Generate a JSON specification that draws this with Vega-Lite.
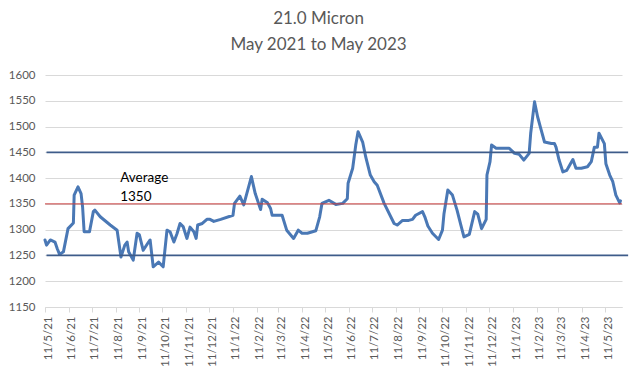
{
  "$schema": "https://vega.github.io/schema/vega-lite/v6.json",
  "width": 577,
  "height": 232,
  "autosize": {"type": "none"},
  "padding": {"left": 45, "top": 75, "right": 14, "bottom": 65},
  "background": "white",
  "title": {
    "text": ["21.0 Micron", "May 2021 to May 2023"],
    "font": "Lato",
    "fontSize": 17,
    "fontWeight": "normal",
    "color": "#595959",
    "lineHeight": 26,
    "anchor": "middle",
    "dx": -15,
    "offset": 15
  },
  "config": {
    "view": {"stroke": null},
    "axis": {"labelFont": "Lato", "labelColor": "#595959", "labelFontSize": 11.5, "labelOverlap": false, "labelFlush": false}
  },
  "datasets": {
    "series": [
      {"date": "2021-05-11", "price": 1280},
      {"date": "2021-05-13", "price": 1270},
      {"date": "2021-05-18", "price": 1280},
      {"date": "2021-05-24", "price": 1276},
      {"date": "2021-05-27", "price": 1263},
      {"date": "2021-05-30", "price": 1252},
      {"date": "2021-06-04", "price": 1257},
      {"date": "2021-06-10", "price": 1302},
      {"date": "2021-06-17", "price": 1313},
      {"date": "2021-06-18", "price": 1367},
      {"date": "2021-06-23", "price": 1383},
      {"date": "2021-06-27", "price": 1370},
      {"date": "2021-06-29", "price": 1344},
      {"date": "2021-07-01", "price": 1296},
      {"date": "2021-07-08", "price": 1296},
      {"date": "2021-07-13", "price": 1335},
      {"date": "2021-07-15", "price": 1338},
      {"date": "2021-07-22", "price": 1325},
      {"date": "2021-08-04", "price": 1309},
      {"date": "2021-08-13", "price": 1299},
      {"date": "2021-08-18", "price": 1247},
      {"date": "2021-08-23", "price": 1270},
      {"date": "2021-08-26", "price": 1276},
      {"date": "2021-08-28", "price": 1257},
      {"date": "2021-09-03", "price": 1241},
      {"date": "2021-09-08", "price": 1293},
      {"date": "2021-09-11", "price": 1290},
      {"date": "2021-09-16", "price": 1260},
      {"date": "2021-09-23", "price": 1276},
      {"date": "2021-09-25", "price": 1280},
      {"date": "2021-09-29", "price": 1228},
      {"date": "2021-10-06", "price": 1237},
      {"date": "2021-10-12", "price": 1228},
      {"date": "2021-10-17", "price": 1299},
      {"date": "2021-10-21", "price": 1296},
      {"date": "2021-10-26", "price": 1276},
      {"date": "2021-10-30", "price": 1292},
      {"date": "2021-11-03", "price": 1312},
      {"date": "2021-11-07", "price": 1306},
      {"date": "2021-11-12", "price": 1283},
      {"date": "2021-11-16", "price": 1305},
      {"date": "2021-11-21", "price": 1296},
      {"date": "2021-11-24", "price": 1283},
      {"date": "2021-11-26", "price": 1309},
      {"date": "2021-12-02", "price": 1312},
      {"date": "2021-12-08", "price": 1320},
      {"date": "2021-12-12", "price": 1320},
      {"date": "2021-12-17", "price": 1316},
      {"date": "2021-12-26", "price": 1320},
      {"date": "2022-01-11", "price": 1328},
      {"date": "2022-01-13", "price": 1351},
      {"date": "2022-01-20", "price": 1365},
      {"date": "2022-01-25", "price": 1348},
      {"date": "2022-02-04", "price": 1403},
      {"date": "2022-02-09", "price": 1370},
      {"date": "2022-02-16", "price": 1339},
      {"date": "2022-02-18", "price": 1359},
      {"date": "2022-02-25", "price": 1352},
      {"date": "2022-03-01", "price": 1341},
      {"date": "2022-03-03", "price": 1328},
      {"date": "2022-03-16", "price": 1328},
      {"date": "2022-03-22", "price": 1299},
      {"date": "2022-03-31", "price": 1283},
      {"date": "2022-04-06", "price": 1299},
      {"date": "2022-04-11", "price": 1293},
      {"date": "2022-04-18", "price": 1293},
      {"date": "2022-04-29", "price": 1298},
      {"date": "2022-05-04", "price": 1325},
      {"date": "2022-05-07", "price": 1351},
      {"date": "2022-05-16", "price": 1357},
      {"date": "2022-05-25", "price": 1349},
      {"date": "2022-06-03", "price": 1351},
      {"date": "2022-06-09", "price": 1360},
      {"date": "2022-06-10", "price": 1390},
      {"date": "2022-06-16", "price": 1419},
      {"date": "2022-06-20", "price": 1464},
      {"date": "2022-06-23", "price": 1490},
      {"date": "2022-06-29", "price": 1470},
      {"date": "2022-07-03", "price": 1441},
      {"date": "2022-07-09", "price": 1406},
      {"date": "2022-07-14", "price": 1393},
      {"date": "2022-07-18", "price": 1386},
      {"date": "2022-07-27", "price": 1351},
      {"date": "2022-08-09", "price": 1312},
      {"date": "2022-08-13", "price": 1309},
      {"date": "2022-08-20", "price": 1318},
      {"date": "2022-08-28", "price": 1318},
      {"date": "2022-09-02", "price": 1320},
      {"date": "2022-09-06", "price": 1328},
      {"date": "2022-09-15", "price": 1335},
      {"date": "2022-09-18", "price": 1325},
      {"date": "2022-09-22", "price": 1307},
      {"date": "2022-09-28", "price": 1293},
      {"date": "2022-10-06", "price": 1281},
      {"date": "2022-10-11", "price": 1299},
      {"date": "2022-10-13", "price": 1331},
      {"date": "2022-10-18", "price": 1377},
      {"date": "2022-10-24", "price": 1367},
      {"date": "2022-10-30", "price": 1338},
      {"date": "2022-11-04", "price": 1309},
      {"date": "2022-11-08", "price": 1286},
      {"date": "2022-11-15", "price": 1291},
      {"date": "2022-11-22", "price": 1335},
      {"date": "2022-11-26", "price": 1330},
      {"date": "2022-12-01", "price": 1302},
      {"date": "2022-12-07", "price": 1320},
      {"date": "2022-12-08", "price": 1406},
      {"date": "2022-12-12", "price": 1432},
      {"date": "2022-12-14", "price": 1464},
      {"date": "2022-12-20", "price": 1458},
      {"date": "2023-01-06", "price": 1458},
      {"date": "2023-01-13", "price": 1448},
      {"date": "2023-01-19", "price": 1446},
      {"date": "2023-01-25", "price": 1435},
      {"date": "2023-02-01", "price": 1448},
      {"date": "2023-02-03", "price": 1487},
      {"date": "2023-02-08", "price": 1548},
      {"date": "2023-02-12", "price": 1519},
      {"date": "2023-02-16", "price": 1497},
      {"date": "2023-02-21", "price": 1470},
      {"date": "2023-03-02", "price": 1467},
      {"date": "2023-03-06", "price": 1467},
      {"date": "2023-03-08", "price": 1460},
      {"date": "2023-03-12", "price": 1435},
      {"date": "2023-03-17", "price": 1412},
      {"date": "2023-03-22", "price": 1415},
      {"date": "2023-03-25", "price": 1423},
      {"date": "2023-03-30", "price": 1436},
      {"date": "2023-04-03", "price": 1419},
      {"date": "2023-04-10", "price": 1419},
      {"date": "2023-04-18", "price": 1422},
      {"date": "2023-04-23", "price": 1432},
      {"date": "2023-04-27", "price": 1460},
      {"date": "2023-05-01", "price": 1460},
      {"date": "2023-05-03", "price": 1487},
      {"date": "2023-05-10", "price": 1467},
      {"date": "2023-05-12", "price": 1428},
      {"date": "2023-05-17", "price": 1406},
      {"date": "2023-05-21", "price": 1393},
      {"date": "2023-05-25", "price": 1367},
      {"date": "2023-05-30", "price": 1352},
      {"date": "2023-05-31", "price": 1356}
    ],
    "bands": [
      {"level": 1450, "start": "2021-05-13", "end": "2023-06-10"},
      {"level": 1250, "start": "2021-05-13", "end": "2023-06-10"}
    ],
    "average": [
      {"level": 1350, "date": "2021-08-17", "note": ["Average", "1350"]}
    ]
  },
  "layer": [
    {
      "data": {"name": "series", "format": {"parse": {"date": "date:'%Y-%m-%d'"}}},
      "mark": {"type": "line", "color": "#4A78B5", "strokeWidth": 3, "strokeJoin": "round", "strokeCap": "round"},
      "encoding": {
        "x": {
          "field": "date",
          "type": "temporal",
          "scale": {"domain": [{"year": 2021, "month": 5, "date": 11}, {"year": 2023, "month": 6, "date": 2}]},
          "axis": {
            "title": null,
            "grid": false,
            "format": "%-d/%-m/%y",
            "labelAngle": -90,
            "labelPadding": 4,
            "labelOffset": 3,
            "labelOverlap": false,
            "tickCount": 100,
            "domainColor": "#d9d9d9",
            "tickColor": "#d9d9d9",
            "tickSize": 5,
            "values": [
              {"year": 2021, "month": 5, "date": 11},
              {"year": 2021, "month": 6, "date": 11},
              {"year": 2021, "month": 7, "date": 11},
              {"year": 2021, "month": 8, "date": 11},
              {"year": 2021, "month": 9, "date": 11},
              {"year": 2021, "month": 10, "date": 11},
              {"year": 2021, "month": 11, "date": 11},
              {"year": 2021, "month": 12, "date": 11},
              {"year": 2022, "month": 1, "date": 11},
              {"year": 2022, "month": 2, "date": 11},
              {"year": 2022, "month": 3, "date": 11},
              {"year": 2022, "month": 4, "date": 11},
              {"year": 2022, "month": 5, "date": 11},
              {"year": 2022, "month": 6, "date": 11},
              {"year": 2022, "month": 7, "date": 11},
              {"year": 2022, "month": 8, "date": 11},
              {"year": 2022, "month": 9, "date": 11},
              {"year": 2022, "month": 10, "date": 11},
              {"year": 2022, "month": 11, "date": 11},
              {"year": 2022, "month": 12, "date": 11},
              {"year": 2023, "month": 1, "date": 11},
              {"year": 2023, "month": 2, "date": 11},
              {"year": 2023, "month": 3, "date": 11},
              {"year": 2023, "month": 4, "date": 11},
              {"year": 2023, "month": 5, "date": 11}
            ]
          }
        },
        "y": {
          "field": "price",
          "type": "quantitative",
          "scale": {"domain": [1150, 1600], "nice": false, "zero": false},
          "axis": {
            "title": null,
            "format": "d",
            "values": [1150, 1200, 1250, 1300, 1350, 1400, 1450, 1500, 1550, 1600],
            "tickCount": 100,
            "grid": true,
            "gridColor": "#d9d9d9",
            "domain": false,
            "ticks": false,
            "labelOverlap": false,
            "labelPadding": 10
          }
        }
      }
    },
    {
      "data": {"name": "bands", "format": {"parse": {"start": "date:'%Y-%m-%d'", "end": "date:'%Y-%m-%d'"}}},
      "mark": {"type": "rule", "color": "#3E5C8A", "strokeWidth": 1.75, "clip": false},
      "encoding": {
        "x": {"field": "start", "type": "temporal"},
        "x2": {"field": "end"},
        "y": {"field": "level", "type": "quantitative"}
      }
    },
    {
      "data": {"name": "average", "format": {"parse": {"date": "date:'%Y-%m-%d'"}}},
      "layer": [
        {
          "mark": {"type": "rule", "color": "#C83C3C", "strokeWidth": 1},
          "encoding": {
            "y": {"field": "level", "type": "quantitative"}
          }
        },
        {
          "mark": {"type": "text", "font": "Lato", "fontSize": 13.5, "color": "#000000", "align": "left", "baseline": "bottom", "lineHeight": 19, "dy": -19},
          "encoding": {
            "x": {"field": "date", "type": "temporal"},
            "y": {"field": "level", "type": "quantitative"},
            "text": {"field": "note"}
          }
        }
      ]
    }
  ]
}
